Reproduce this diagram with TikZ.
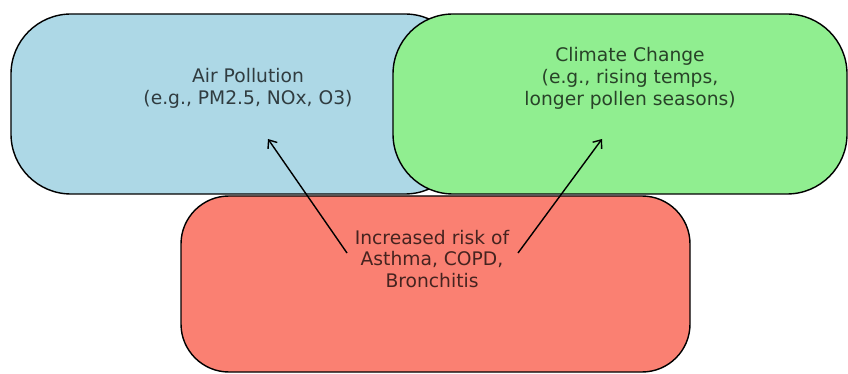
\documentclass[tikz,border=0pt]{standalone}
\usepackage{fontspec}
\setmainfont{DejaVu Sans}
\usetikzlibrary{arrows.meta}

\definecolor{airblue}{HTML}{ADD8E6}
\definecolor{climgreen}{HTML}{90EE90}
\definecolor{riskred}{HTML}{FA8072}

\begin{document}
\begin{tikzpicture}[
    box/.style={rectangle,draw,line width=1pt,rounded corners=1.5cm,minimum width=11.35cm,minimum height=4.5cm},
    label/.style={align=center,text opacity=0.72,font=\fontsize{13.3}{15.6}\selectfont}
  ]
            \useasboundingbox (0,0) rectangle (21.2,9.325);

            \node [box,fill=airblue] (air) at (5.95,6.725) {};
            \node [box,fill=climgreen] (climate) at (15.5,6.725) {};
            \node [box,fill=riskred,minimum width=12.725cm,minimum height=4.4cm,rounded corners=1.2cm] (risk) at (10.8875,2.225) {};

            \node [label] (airtext) at (6.2,7.125) {Air Pollution\\(e.g., PM2.5, NOx, O3)};
            \node [label] (climatetext) at (15.75,7.375) {Climate Change\\(e.g., rising temps,\\longer pollen seasons)};
            \node [label] (risktext) at (10.8,2.85) {Increased risk of\\Asthma, COPD,\\Bronchitis};

            \coordinate (airfrom) at (8.675,3.0);
            \coordinate (airtip) at (6.7,5.85);
            \coordinate (climatefrom) at (12.95,3.0);
            \coordinate (climatetip) at (15.05,5.85);

            \path[-{Straight Barb[length=5pt,width=8pt]},line width=1pt]
            (airfrom) edge (airtip)
            (climatefrom) edge (climatetip)
            ;

        \end{tikzpicture}
\end{document}
